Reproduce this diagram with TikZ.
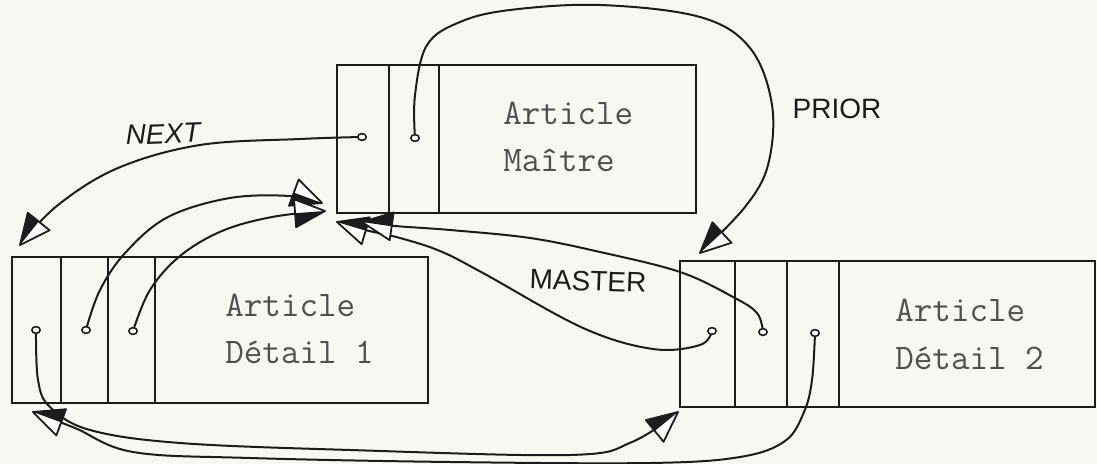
\documentclass[tikz,border=0pt]{standalone}
\usepackage{fontspec}
\newfontfamily\handfont{Liberation Sans}
\usetikzlibrary{arrows.meta,shapes.geometric}
\pgfdeclarelayer{sheet}
\pgfdeclarelayer{links}
\pgfsetlayers{sheet,links,main}

\definecolor{paper}{RGB}{248,248,243}
\definecolor{ink}{RGB}{28,28,28}
\definecolor{typeink}{RGB}{80,80,80}

% hand-drawn style arrow heads: open triangle with one half inked
\pgfdeclarearrow{
  name = HalfR,
  setup code = {
    \pgfarrowssettipend{0pt}
    \pgfarrowssetlineend{-12pt}
    \pgfarrowssetvisualbackend{-15pt}
    \pgfarrowssetbackend{-15pt}
    \pgfarrowshullpoint{0pt}{0pt}
    \pgfarrowshullpoint{-15pt}{7pt}
    \pgfarrowshullpoint{-15pt}{-7pt}
  },
  drawing code = {
    \pgfsetlinewidth{0.9pt}
    \pgfsetroundjoin
    \pgfsetdash{}{0pt}
    \pgfpathmoveto{\pgfpointorigin}
    \pgfpathlineto{\pgfpoint{-15pt}{7pt}}
    \pgfpathlineto{\pgfpoint{-15pt}{-7pt}}
    \pgfpathclose
    \pgfsetfillcolor{white}
    \pgfusepathqfillstroke
    \pgfpathmoveto{\pgfpointorigin}
    \pgfpathlineto{\pgfpoint{-15pt}{-7pt}}
    \pgfpathlineto{\pgfpoint{-15pt}{0pt}}
    \pgfpathclose
    \pgfsetfillcolor{ink}
    \pgfusepathqfill
  }
}
\pgfdeclarearrow{
  name = HalfL,
  setup code = {
    \pgfarrowssettipend{0pt}
    \pgfarrowssetlineend{-12pt}
    \pgfarrowssetvisualbackend{-15pt}
    \pgfarrowssetbackend{-15pt}
    \pgfarrowshullpoint{0pt}{0pt}
    \pgfarrowshullpoint{-15pt}{7pt}
    \pgfarrowshullpoint{-15pt}{-7pt}
  },
  drawing code = {
    \pgfsetlinewidth{0.9pt}
    \pgfsetroundjoin
    \pgfsetdash{}{0pt}
    \pgfpathmoveto{\pgfpointorigin}
    \pgfpathlineto{\pgfpoint{-15pt}{7pt}}
    \pgfpathlineto{\pgfpoint{-15pt}{-7pt}}
    \pgfpathclose
    \pgfsetfillcolor{white}
    \pgfusepathqfillstroke
    \pgfpathmoveto{\pgfpointorigin}
    \pgfpathlineto{\pgfpoint{-15pt}{7pt}}
    \pgfpathlineto{\pgfpoint{-15pt}{0pt}}
    \pgfpathclose
    \pgfsetfillcolor{ink}
    \pgfusepathqfill
  }
}

\begin{document}
\begin{tikzpicture}[x=0.5pt, y=-0.5pt,
  cell/.style={draw=ink, line width=1pt, inner sep=0pt, outer sep=0pt, anchor=north west},
  ptr/.style={ellipse, draw=ink, fill=white, line width=0.8pt, inner sep=0pt,
    minimum width=4.2pt, minimum height=3.4pt},
  field/.style={anchor=base west, inner sep=0pt, text=typeink,
    font=\ttfamily\fontsize{18}{23}\selectfont},
  tag/.style={inner sep=0pt, text=ink, font=\handfont\fontsize{14}{16}\selectfont},
  link/.style={draw=ink, line width=1pt, line cap=round, line join=round},
  headR/.style={-{HalfR}},
  headL/.style={-{HalfL}}]

\begin{pgfonlayer}{sheet}
\fill[paper] (0,0) rectangle (1097,464);
\end{pgfonlayer}
\useasboundingbox (0,0) rectangle (1097,464);

% master record
\node[cell, minimum width=26pt,    minimum height=74pt] (m1) at (337,65) {};
\node[cell, minimum width=25pt,    minimum height=74pt] (m2) at (m1.north east) {};
\node[cell, minimum width=128.5pt, minimum height=74pt] (m3) at (m2.north east) {};
\node[field] (mtxt1) at (503,125) {Article};
\node[field] (mtxt2) at (503,172) {Maître};

% detail record 1
\node[cell, minimum width=24.5pt,  minimum height=73pt] (a1) at (12,257) {};
\node[cell, minimum width=23.5pt,  minimum height=73pt] (a2) at (a1.north east) {};
\node[cell, minimum width=23.5pt,  minimum height=73pt] (a3) at (a2.north east) {};
\node[cell, minimum width=136.5pt, minimum height=73pt] (a4) at (a3.north east) {};
\node[field] (atxt1) at (225,317) {Article};
\node[field] (atxt2) at (225,364) {Détail 1};

% detail record 2
\node[cell, minimum width=27.5pt, minimum height=73pt] (b1) at (680,261) {};
\node[cell, minimum width=26pt,   minimum height=73pt] (b2) at (b1.north east) {};
\node[cell, minimum width=26pt,   minimum height=73pt] (b3) at (b2.north east) {};
\node[cell, minimum width=128pt,  minimum height=73pt] (b4) at (b3.north east) {};
\node[field] (btxt1) at (895,322) {Article};
\node[field] (btxt2) at (895,370) {Détail 2};

% pointer fields
\node[ptr] (m1d) at (362,137) {};
\node[ptr] (m2d) at (415,138) {};
\node[ptr] (a1d) at (36,330) {};
\node[ptr] (a2d) at (86,330) {};
\node[ptr] (a3d) at (133,331) {};
\node[ptr] (b1d) at (712,331) {};
\node[ptr] (b2d) at (763,332) {};
\node[ptr] (b3d) at (815,333) {};

% arrow targets
\coordinate (t1) at (20,245);
\coordinate (t2) at (322,203);
\coordinate (t3) at (325,211);
\coordinate (t4) at (337,222);
\coordinate (t5) at (362,222);
\coordinate (t6) at (700,253);
\coordinate (t7) at (678,412);
\coordinate (t8) at (33,412);

% labels
\node[tag, font=\handfont\itshape\fontsize{14}{16}\selectfont, rotate=2] (lnext) at (163,134) {NEXT};
\node[tag] (lprior) at (837,109) {PRIOR};
\node[tag, rotate=-2] (lmaster) at (588,281) {MASTER};

\begin{pgfonlayer}{links}
% NEXT
\draw[link, headR] plot[smooth, tension=0.6] coordinates
  {(m1d.center) (300,139) (200,145) (118,168) (58,205) (t1)};
% detail 1 to master
\draw[link, headR] plot[smooth, tension=0.6] coordinates
  {(a2d.center) (100,290) (126,252) (168,217) (230,198) (290,196) (t2)};
\draw[link, headR] plot[smooth, tension=0.6] coordinates
  {(a3d.center) (150,290) (180,256) (222,231) (272,217) (t3)};
% detail 2 to master
\draw[link, headR] plot[smooth, tension=0.6] coordinates
  {(b1d.center) (700,345) (653,349) (583,328) (483,273) (440,251) (400,238) (365,230) (t4)};
\draw[link, headR] plot[smooth, tension=0.6] coordinates
  {(b2d.center) (757,313) (733,297) (680,272) (600,252) (530,238) (450,230) (395,226) (t5)};
% PRIOR
\draw[link, headR] plot[smooth, tension=0.6] coordinates
  {(m2d.center) (415,95) (427,45) (460,22) (510,10) (600,5) (700,17) (750,48) (772,105)
   (768,165) (745,207) (t6)};
% detail 1 to detail 2
\draw[link, headL] plot[smooth, tension=0.6] coordinates
  {(a1d.center) (38,380) (50,407) (90,430) (180,443) (350,450) (570,455) (632,442) (t7)};
% detail 2 to detail 1
\draw[link, headR] plot[smooth, tension=0.6] coordinates
  {(b3d.center) (812,380) (804,412) (785,441) (740,457) (650,463) (450,462) (250,458)
   (133,452) (75,428) (t8)};
\end{pgfonlayer}
\end{tikzpicture}
\end{document}
